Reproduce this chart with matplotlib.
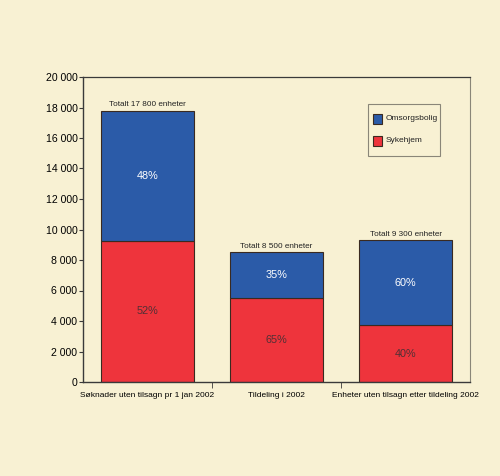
import matplotlib
matplotlib.use("Agg")
import matplotlib.pyplot as plt
import numpy as np
from matplotlib.patches import Rectangle

plt.rcParams["font.family"] = ["Liberation Sans", "DejaVu Sans"]

categories = ["Søknader uten tilsagn pr 1 jan 2002", "Tildeling i 2002",
              "Enheter uten tilsagn etter tildeling 2002"]
totals = [17800, 8500, 9300]
sykehjem_pct = [52, 65, 40]
omsorg_pct = [48, 35, 60]
total_labels = ["Totalt 17 800 enheter", "Totalt 8 500 enheter", "Totalt 9 300 enheter"]
series_names = ["Omsorgsbolig", "Sykehjem"]
yticks = [0, 2000, 4000, 6000, 8000, 10000, 12000, 14000, 16000, 18000, 20000]

BG = "#f8f1d3"
BLUE = "#2b5ba8"
RED = "#ee343c"
EDGE = "#3a2a20"

sykehjem = [t * p / 100 for t, p in zip(totals, sykehjem_pct)]
omsorg = [t - s for t, s in zip(totals, sykehjem)]

W, H = 500, 476
fig = plt.figure(figsize=(W / 100, H / 100), dpi=100, facecolor=BG)
ax = fig.add_axes([83 / W, 1 - 382 / H, 387 / W, 305 / H], facecolor=BG)

x = np.arange(len(categories))
ax.bar(x, sykehjem, width=0.72, color=RED, edgecolor=EDGE, linewidth=0.8)
ax.bar(x, omsorg, bottom=sykehjem, width=0.72, color=BLUE,
       edgecolor=EDGE, linewidth=0.8)

for i in range(len(x)):
    ax.text(x[i], sykehjem[i] / 2, f"{sykehjem_pct[i]}%", ha="center",
            va="center", fontsize=7.8, color="#503035")
    ax.text(x[i], sykehjem[i] + omsorg[i] / 2, f"{omsorg_pct[i]}%",
            ha="center", va="center", fontsize=7.8, color="white")
    ax.text(x[i], totals[i] + 150, total_labels[i], ha="center",
            va="bottom", fontsize=5.9, color="#222222")

ax.set_xlim(-0.5, 2.5)
ax.set_ylim(0, 20000)
ax.set_yticks(yticks)
ax.set_yticklabels([f"{v:,}".replace(",", " ") for v in yticks], fontsize=7.6)
ax.set_xticks(x)
ax.set_xticklabels(categories, fontsize=6.0)
ax.set_xticks([0.5, 1.5], minor=True)
ax.tick_params(axis="x", which="major", length=0, pad=7)
ax.tick_params(axis="x", which="minor", length=4, color="#3a3a3a")
ax.tick_params(axis="y", length=3, color="#3a3a3a", pad=1)

for side in ["left", "bottom"]:
    ax.spines[side].set_color("#3a3a3a")
    ax.spines[side].set_linewidth(1.0)
ax.spines["top"].set_color("#3a3a3a")
ax.spines["top"].set_linewidth(0.9)
ax.spines["right"].set_color("#8a8678")
ax.spines["right"].set_linewidth(0.8)

# legend box drawn by hand to match the placement
fig.patches.append(Rectangle((368 / W, 1 - 156 / H), 72 / W, 52 / H,
                             transform=fig.transFigure, facecolor=BG,
                             edgecolor="#8a8678", linewidth=0.8))
for name, color, yc in zip(series_names, [BLUE, RED], [119, 141]):
    fig.patches.append(Rectangle((373 / W, 1 - (yc + 4.5) / H), 9 / W, 9 / H,
                                 transform=fig.transFigure, facecolor=color,
                                 edgecolor=EDGE, linewidth=0.8))
    fig.text(386 / W, 1 - yc / H, name, fontsize=6, va="center", ha="left",
             color="#222222")

fig.savefig("out.png", dpi=100, facecolor=BG)
